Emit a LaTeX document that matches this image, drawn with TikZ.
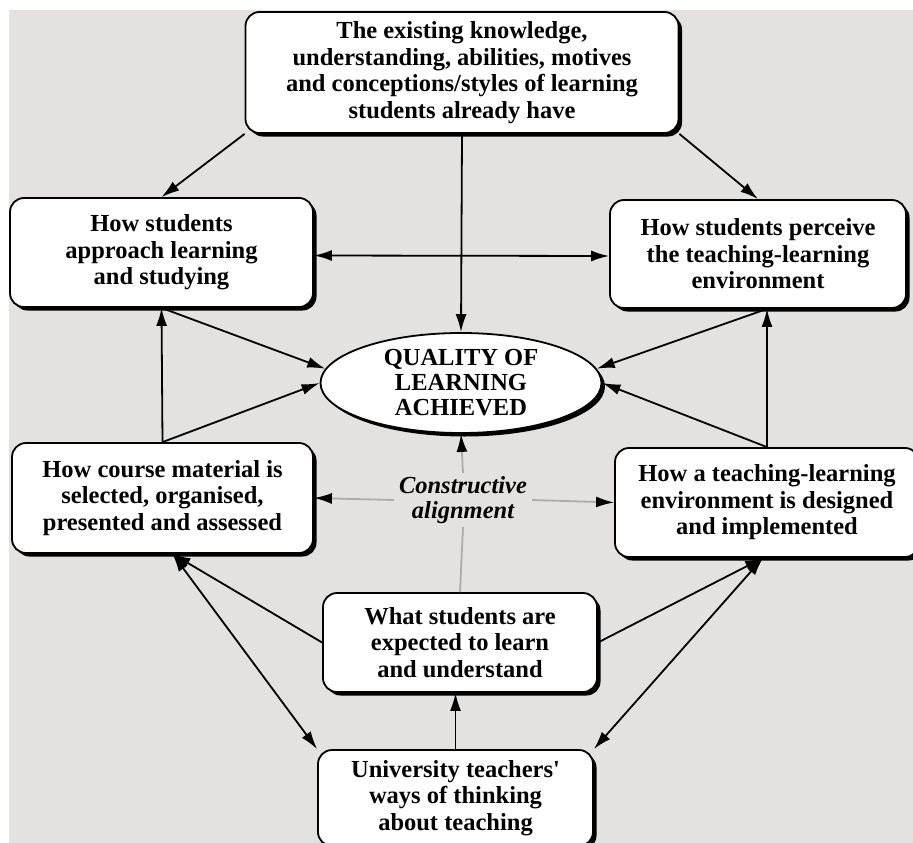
\documentclass[tikz,border=0pt]{standalone}
\usepackage{fontspec}
\setmainfont{Liberation Serif}
\usetikzlibrary{arrows.meta,shapes.geometric,shadows}
\definecolor{panel}{HTML}{E3E2E1}
\definecolor{guide}{HTML}{ABABAB}
\begin{document}
\begin{tikzpicture}[x=1pt,y=-1pt,
  shade/.style={drop shadow={shadow xshift=3.5pt,shadow yshift=-3.5pt,fill=black,opacity=1}},
  txt/.style={font=\fontsize{24.5}{26.5}\selectfont\bfseries},
  box/.style={txt,shade,draw=black,line width=1.8pt,fill=white,rounded corners=14pt,
    align=center,inner sep=0pt},
  oval/.style={shade,ellipse,draw=black,line width=1.8pt,fill=white,align=center,
    inner sep=0pt,font=\fontsize{24.5}{25}\selectfont\bfseries},
  conn/.style={line width=1.8pt,-{Latex[length=18pt,width=11pt]}},
  both/.style={line width=1.8pt,{Latex[length=18pt,width=11pt]}-{Latex[length=18pt,width=11pt]}},
  guideline/.style={guide,line width=1.8pt},
  guidearrow/.style={guide,line width=1.8pt,-{Latex[length=18pt,width=11pt,color=black]}}
]
\useasboundingbox (0,0) rectangle (913,843);
\fill[panel] (9,10) rectangle (913,843);

% boxes
\node[box,minimum width=433pt,minimum height=121pt] (T) at (462,72.5)
  {The existing knowledge,\\understanding, abilities, motives\\and conceptions/styles of learning\\students already have};
\node[box,minimum width=303pt,minimum height=109pt] (L) at (161.5,252.5)
  {How students\\approach learning\\and studying};
\node[box,minimum width=296pt,minimum height=108pt] (R) at (758,254)
  {How students perceive\\the teaching-learning\\environment};
\node[oval,minimum width=281pt,minimum height=100pt] (E) at (461,383)
  {QUALITY OF\\LEARNING\\ACHIEVED};
\node[box,minimum width=301pt,minimum height=110pt] (LM) at (162.5,498)
  {How course material is\\selected, organised,\\presented and assessed};
\node[box,minimum width=304pt,minimum height=109pt] (RM) at (767,502.5)
  {How a teaching-learning\\environment is designed\\and implemented};
\node[box,minimum width=274pt,minimum height=99pt] (W) at (460,642.5)
  {What students are\\expected to learn\\and understand};
\node[box,minimum width=275pt,minimum height=96pt] (U) at (455.5,798)
  {University teachers\textquotesingle\\ways of thinking\\about teaching};
\node[font=\fontsize{24.5}{25.5}\selectfont\bfseries\itshape,align=center,
  inner xsep=5pt,inner ysep=3pt] (C) at (463,500) {Constructive\\alignment};

% connectors
\draw[conn] (T.south west) -- (L.north);
\draw[conn] (T.south east) -- (R.north);
\draw[conn] (T.south) -- (E.north);
\draw[both] ([yshift=-3pt]L.east) -- ([yshift=-2pt]R.west);

\draw[conn] (L.south) -- (E.174);
\draw[conn] (LM.north) -- (E.180);
\draw[conn] (LM.north) -- (L.south);

\draw[conn] ([xshift=9pt]R.south) -- (E.6);
\draw[conn] (RM.north) -- (E.0);
\draw[conn] (RM.north) -- ([xshift=9pt]R.south);

\draw[conn] (W.west) -- ([xshift=10pt]LM.south);
\draw[conn] (W.east) -- ([xshift=-4pt]RM.south);
\draw[conn] (U.north) -- (U.north |- W.south);
\draw[both] (U.north west) -- ([xshift=10pt]LM.south);
\draw[both] (U.north east) -- ([xshift=-4pt]RM.south);

% constructive alignment guides
\draw[guidearrow] (C.north) -- (E.south);
\draw[guidearrow] (C.west) -- (LM.east);
\draw[guidearrow] (C.east) -- (RM.west);
\draw[guideline] (C.south) -- (W.north);
\end{tikzpicture}
\end{document}
